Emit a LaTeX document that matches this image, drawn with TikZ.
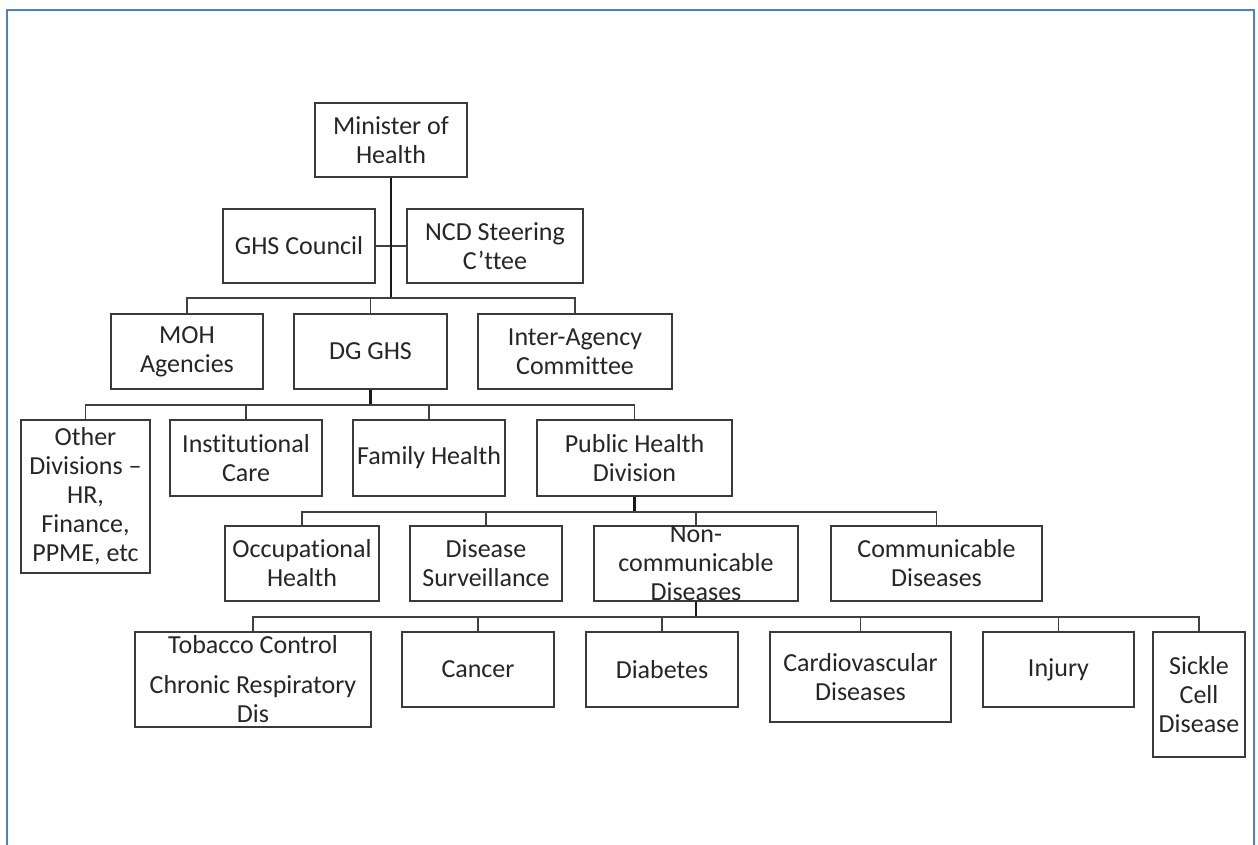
\documentclass[tikz,border=0pt]{standalone}
\usepackage{fontspec}
\setmainfont{Carlito}[Ligatures=NoCommon]
\definecolor{frameblue}{HTML}{4F81BD}
\definecolor{boxline}{HTML}{3A3A3A}
\begin{document}
\begin{tikzpicture}[x=1pt,y=-1pt,
  box/.style={draw=boxline,line width=1.3pt,fill=white,inner sep=0pt,rectangle},
  txt/.style={inner sep=0pt,align=center,font=\fontsize{26}{29}\selectfont,text=black!85},
  conn/.style={draw=black!75,line width=1.4pt},
  trunk/.style={draw=black!90,line width=2.2pt}]
\useasboundingbox (0,0) rectangle (1258,844);
% outer frame
\draw[frameblue,line width=2.5pt] (7,860) -- (7,10) -- (1254,10) -- (1254,860);

% boxes
\node[box,minimum width=152pt,minimum height=74pt] (min) at (391,140) {};
\node[box,minimum width=152pt,minimum height=74pt] (ghs) at (299,246) {};
\node[box,minimum width=176pt,minimum height=74pt] (ncd) at (495,246) {};
\node[box,minimum width=152pt,minimum height=75pt] (moh) at (187,351.5) {};
\node[box,minimum width=153pt,minimum height=75pt] (dg) at (370.5,351.5) {};
\node[box,minimum width=194pt,minimum height=75pt] (iac) at (575,351.5) {};
\node[box,minimum width=129pt,minimum height=153pt] (oth) at (85.5,496.5) {};
\node[box,minimum width=152pt,minimum height=76pt] (inst) at (246,458) {};
\node[box,minimum width=152pt,minimum height=76pt] (fam) at (429,458) {};
\node[box,minimum width=195pt,minimum height=76pt] (phd) at (634.5,458) {};
\node[box,minimum width=154pt,minimum height=75pt] (occ) at (302,563.5) {};
\node[box,minimum width=152pt,minimum height=75pt] (dis) at (486,563.5) {};
\node[box,minimum width=204pt,minimum height=75pt] (nc) at (696,563.5) {};
\node[box,minimum width=211pt,minimum height=75pt] (com) at (936.5,563.5) {};
\node[box,minimum width=236pt,minimum height=95pt] (tob) at (253,679.5) {};
\node[box,minimum width=152pt,minimum height=75pt] (can) at (478,669.5) {};
\node[box,minimum width=152pt,minimum height=75pt] (dia) at (662,669.5) {};
\node[box,minimum width=181pt,minimum height=90pt] (car) at (860.5,677) {};
\node[box,minimum width=151pt,minimum height=75pt] (inj) at (1058.5,669.5) {};
\node[box,minimum width=92pt,minimum height=125pt] (sic) at (1199,694.5) {};

% texts
\node[txt] (min-t) at (min) {Minister of\\Health};
\node[txt] (ghs-t) at (ghs) {GHS Council};
\node[txt] (ncd-t) at (ncd) {NCD Steering\\C’ttee};
\node[txt] (moh-t) at (moh) {MOH\\Agencies};
\node[txt] (dg-t) at (dg) {DG GHS};
\node[txt] (iac-t) at (iac) {Inter-Agency\\Committee};
\node[txt] (oth-t) at (oth) {Other\\Divisions –\\HR,\\Finance,\\PPME, etc};
\node[txt] (inst-t) at (inst) {Institutional\\Care};
\node[txt] (fam-t) at (fam) {Family Health};
\node[txt] (phd-t) at (phd) {Public Health\\Division};
\node[txt] (occ-t) at (occ) {Occupational\\Health};
\node[txt] (dis-t) at (dis) {Disease\\Surveillance};
\node[txt] (nc-t) at (nc) {Non-\\communicable\\Diseases};
\node[txt] (com-t) at (com) {Communicable\\Diseases};
\node[txt] (tob-t) at (tob) {Tobacco Control\\[11pt]Chronic Respiratory\\Dis};
\node[txt] (can-t) at (can) {Cancer};
\node[txt] (dia-t) at (dia) {Diabetes};
\node[txt] (car-t) at (car) {Cardiovascular\\Diseases};
\node[txt] (inj-t) at (inj) {Injury};
\node[txt] (sic-t) at (sic) {Sickle\\Cell\\Disease};

% bus coordinates
\coordinate (b3) at (391,298);
\coordinate (b4) at (370.5,405);
\coordinate (b5) at (634.5,512);
\coordinate (b6) at (696,617);

% connectors
\draw[conn] (ghs.east) -- (ncd.west);
\draw[trunk] (min.south) -- (b3);
\draw[conn] (b3) -| (moh.north);
\draw[conn] (b3) -| (dg.north);
\draw[conn] (b3) -| (iac.north);

\draw[trunk] (dg.south) -- (b4);
\draw[conn] (b4) -| (oth.north);
\draw[conn] (b4) -| (inst.north);
\draw[conn] (b4) -| (fam.north);
\draw[conn] (b4) -| (phd.north);

\draw[trunk] (phd.south) -- (b5);
\draw[conn] (b5) -| (occ.north);
\draw[conn] (b5) -| (dis.north);
\draw[conn] (b5) -| (nc.north);
\draw[conn] (b5) -| (com.north);

\draw[trunk] (nc.south) -- (b6);
\draw[conn] (b6) -| (tob.north);
\draw[conn] (b6) -| (can.north);
\draw[conn] (b6) -| (dia.north);
\draw[conn] (b6) -| (car.north);
\draw[conn] (b6) -| (inj.north);
\draw[conn] (b6) -| (sic.north);
\end{tikzpicture}
\end{document}
